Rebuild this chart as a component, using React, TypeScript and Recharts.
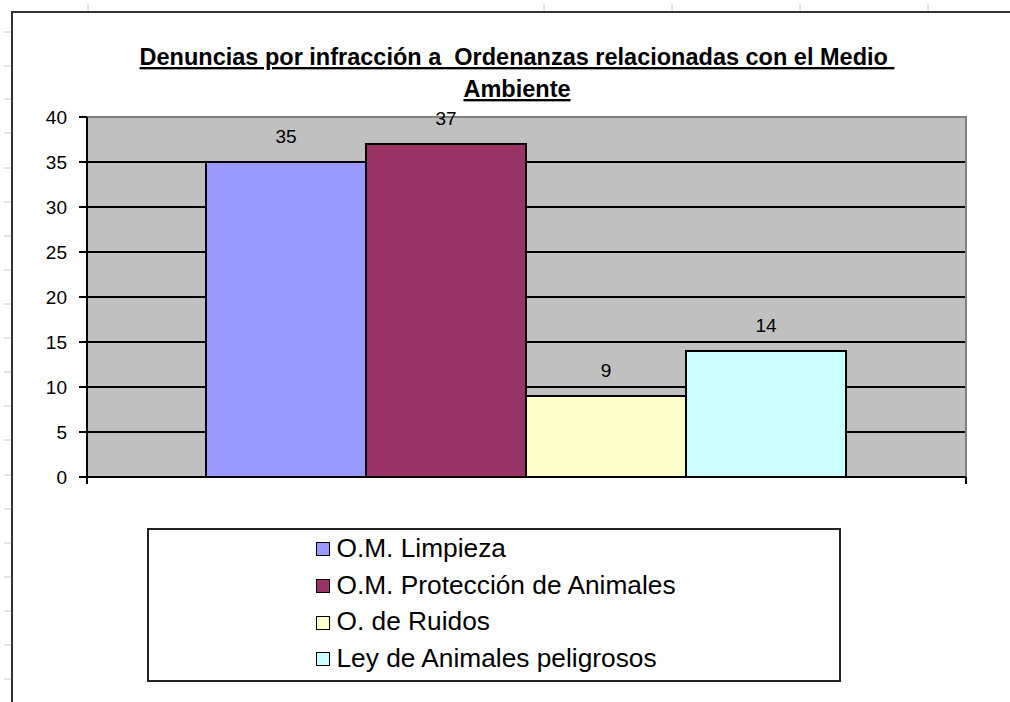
import React from 'react';
import { BarChart, Bar, XAxis, YAxis, CartesianGrid, LabelList, ReferenceArea, Legend } from 'recharts';

const FONT = '"Liberation Sans", Arial, Helvetica, sans-serif';

const titleLines = ['Denuncias por infracción a  Ordenanzas relacionadas con el Medio ', 'Ambiente'];
const categories = ['Denuncias'];
const seriesKeys = ['limpieza', 'proteccion', 'ruidos', 'ley'];
const seriesNames = ['O.M. Limpieza', 'O.M. Protección de Animales', 'O. de Ruidos', 'Ley de Animales peligrosos'];
const seriesValues = [35, 37, 9, 14];
const seriesColors = ['#9999FF', '#993366', '#FFFFCC', '#CCFFFF'];
const yTicks = [0, 5, 10, 15, 20, 25, 30, 35, 40];
const gridValues = [0, 5, 10, 15, 20, 25, 30, 35];

const data = categories.map((c) => {
  const row: Record<string, any> = { category: c };
  seriesKeys.forEach((k, i) => {
    row[k] = seriesValues[i];
  });
  return row;
});

// spreadsheet cell-grid decorations around the embedded chart
const sheetColTicks = [88, 544, 672, 800, 928];
const sheetRowTicks = [32, 66, 99, 133, 168, 202, 236, 270, 304, 338, 372, 406, 440, 475, 509, 543, 577, 611, 645, 679];

const LegendBox = () => (
  <div
    style={{
      boxSizing: 'border-box',
      width: 694,
      height: 154,
      border: '2px solid #222',
      background: '#fff',
      display: 'flex',
      justifyContent: 'center',
      fontFamily: FONT,
    }}
  >
    <div style={{ marginLeft: 4 }}>
      {seriesNames.map((name, i) => (
        <div key={name} style={{ display: 'flex', alignItems: 'center', height: 36.7, lineHeight: '36.7px', fontSize: 26.3, color: '#000', whiteSpace: 'nowrap' }}>
          <span
            style={{
              display: 'inline-block',
              width: 12,
              height: 12,
              border: '1px solid #000',
              background: seriesColors[i],
              marginRight: 6,
              marginTop: 2,
            }}
          />
          <span>{name}</span>
        </div>
      ))}
    </div>
  </div>
);

export default function App() {
  return (
    <div style={{ position: 'absolute', left: 0, top: 0, width: 1010, height: 702, background: '#fff', overflow: 'hidden', fontFamily: FONT }}>
      <svg width={1010} height={702} style={{ position: 'absolute', left: 0, top: 0 }}>
        {sheetColTicks.map((x) => (
          <line key={'c' + x} x1={x} x2={x} y1={4} y2={11} stroke="#c8c8c8" strokeWidth={1} />
        ))}
        {sheetRowTicks.map((y) => (
          <line key={'r' + y} x1={4} x2={11} y1={y} y2={y} stroke="#c8c8c8" strokeWidth={1} />
        ))}
        <line x1={12} x2={1010} y1={12} y2={12} stroke="#333" strokeWidth={2} />
        <line x1={12} x2={12} y1={11} y2={702} stroke="#333" strokeWidth={2} />
        {titleLines.map((t, i) => (
          <text
            key={i}
            x={517}
            y={65 + i * 32}
            textAnchor="middle"
            fontFamily={FONT}
            fontSize={23.5}
            fontWeight="bold"
            fill="#000"
            textDecoration="underline"
            style={{ whiteSpace: 'pre' }}
          >
            {t}
          </text>
        ))}
      </svg>
      <div style={{ position: 'absolute', left: 0, top: 0 }}>
        <BarChart
          width={1010}
          height={702}
          data={data}
          margin={{ top: 117, right: 44, bottom: 224, left: 0 }}
          barCategoryGap={119}
          barGap={0}
        >
          <CartesianGrid fill="#C0C0C0" vertical={false} horizontalValues={gridValues} stroke="#000" strokeWidth={2} />
          <ReferenceArea y1={0} y2={40} fill="none" fillOpacity={0} stroke="#808080" strokeWidth={2} />
          <XAxis
            dataKey="category"
            height={1}
            tick={false}
            tickLine={false}
            axisLine={{ stroke: '#000', strokeWidth: 2 }}
          />
          <YAxis
            domain={[0, 40]}
            ticks={yTicks}
            interval={0}
            width={87}
            tickSize={8}
            tickMargin={12}
            axisLine={{ stroke: '#000', strokeWidth: 2 }}
            tickLine={{ stroke: '#000', strokeWidth: 2 }}
            tick={{ fill: '#000', fontSize: 19, fontFamily: FONT }}
          />
          {seriesKeys.map((k, i) => (
            <Bar key={k} dataKey={k} name={seriesNames[i]} fill={seriesColors[i]} stroke="#000" strokeWidth={2} isAnimationActive={false}>
              <LabelList dataKey={k} position="top" offset={19} fill="#000" fontSize={19} fontFamily={FONT} />
            </Bar>
          ))}
          <Legend
            layout="vertical"
            align="center"
            verticalAlign="middle"
            wrapperStyle={{ left: 147, top: 528, width: 694, height: 154 }}
            content={() => <LegendBox />}
          />
        </BarChart>
      </div>
      <svg width={1010} height={702} style={{ position: 'absolute', left: 0, top: 0, pointerEvents: 'none' }}>
        <line x1={87} x2={87} y1={477} y2={484} stroke="#000" strokeWidth={2} />
        <line x1={966} x2={966} y1={477} y2={484} stroke="#000" strokeWidth={2} />
      </svg>
    </div>
  );
}
